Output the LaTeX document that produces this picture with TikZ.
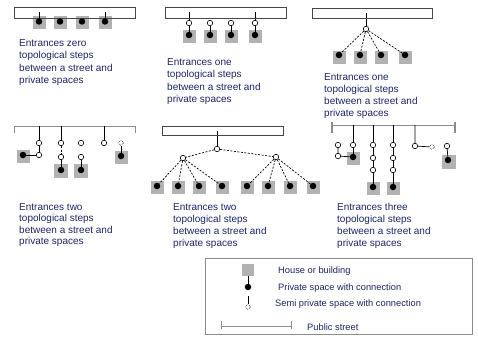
\documentclass[tikz,border=0pt]{standalone}
\usepackage{fontspec}
\setmainfont{Liberation Sans}
\usetikzlibrary{backgrounds}
\definecolor{housegrey}{RGB}{178,178,178}
\definecolor{streetgrey}{RGB}{70,70,70}
\definecolor{bracketgrey}{RGB}{140,140,140}
\definecolor{txt}{RGB}{28,37,102}
\tikzset{
  house/.style={fill=housegrey, draw=none, minimum size=13pt, inner sep=0pt},
  pdot/.style={circle, fill=black, draw=none, minimum size=6.5pt, inner sep=0pt},
  semi/.style={circle, draw=black, fill=white, minimum size=5.5pt, inner sep=0pt, line width=0.6pt},
  semidot/.style={circle, draw=black, fill=white, densely dotted, minimum size=4.5pt, inner sep=0pt, line width=0.6pt},
  streetbox/.style={draw=streetgrey, line width=0.9pt, fill=none, inner sep=0pt},
  bracket/.style={draw=bracketgrey, line width=0.8pt},
  conn/.style={line width=0.7pt},
  dconn/.style={line width=0.7pt, dash pattern=on 2pt off 1.5pt},
  lbl/.style={anchor=base west, inner sep=0pt, font=\fontsize{10}{12}\selectfont, text=txt},
  lglbl/.style={anchor=base west, inner sep=0pt, font=\fontsize{9.3}{11}\selectfont, text=txt}
}
\begin{document}
\begin{tikzpicture}[x=1pt, y=-1pt]
\useasboundingbox (0,0) rectangle (478,337);

% ---------------- Panel 1 ----------------
\node[streetbox, minimum width=121pt, minimum height=11pt] (s1) at (75,12.5) {};
\foreach \i/\x in {1/39,2/60,3/82,4/105} {
  \node[pdot] (d1\i) at (\x,21.5) {};
}
\node[lbl] (t1a) at (19,46) {Entrances zero};
\node[lbl] (t1b) at (19,58.5) {topological steps};
\node[lbl] (t1c) at (19,71) {between a street and};
\node[lbl] (t1d) at (19,83.5) {private spaces};

% ---------------- Panel 2 ----------------
\node[streetbox, minimum width=121pt, minimum height=11pt] (s2) at (225.5,12.5) {};
\foreach \i/\x in {1/189,2/210,3/231,4/255} {
  \node[semi] (c2\i) at (\x,23) {};
  \node[pdot] (d2\i) at (\x,35) {};
}
\node[lbl] (t2a) at (167,65) {Entrances one};
\node[lbl] (t2b) at (167,77.5) {topological steps};
\node[lbl] (t2c) at (167,90) {between a street and};
\node[lbl] (t2d) at (167,102.5) {private spaces};

% ---------------- Panel 3 ----------------
\node[streetbox, minimum width=120pt, minimum height=10pt] (s3) at (372,13) {};
\node[semi] (n3) at (366,29) {};
\foreach \i/\x in {1/339,2/360,3/381,4/405} {
  \node[pdot] (d3\i) at (\x,55) {};
}
\node[lbl] (t3a) at (324,80) {Entrances one};
\node[lbl] (t3b) at (324,92) {topological steps};
\node[lbl] (t3c) at (324,104) {between a street and};
\node[lbl] (t3d) at (324,116) {private spaces};

% ---------------- Panel 4 ----------------
\coordinate (p4l) at (14,126);
\coordinate (p4r) at (135,126);
\coordinate (p4lb) at (14,133);
\coordinate (p4rb) at (135,133);
\node[semi] (a41) at (39,143) {};
\node[semi] (a42) at (39,155) {};
\node[pdot] (dA4) at (23,155) {};
\node[semi] (b41) at (61,143) {};
\node[semi] (b42) at (61,157) {};
\node[pdot] (dB4) at (61,170) {};
\node[semi] (c41) at (81,143) {};
\node[semi] (c42) at (81,157) {};
\node[pdot] (dC4) at (81,170) {};
\node[semi] (d41) at (104,143) {};
\node[semidot] (e41) at (121,143) {};
\node[pdot] (dE4) at (121,156) {};
\node[lbl] (t4a) at (19,210) {Entrances two};
\node[lbl] (t4b) at (19,221.5) {topological steps};
\node[lbl] (t4c) at (19,233) {between a street and};
\node[lbl] (t4d) at (19,244.5) {private spaces};

% ---------------- Panel 5 ----------------
\node[streetbox, minimum width=121pt, minimum height=9pt] (s5) at (222.5,130.5) {};
\node[semi] (n5) at (217,149) {};
\node[semi] (l5) at (183,158) {};
\node[semi] (r5) at (276,157) {};
\foreach \i/\x in {1/157,2/178,3/199,4/222,5/247,6/268,7/290,8/313} {
  \node[pdot] (d5\i) at (\x,186) {};
}
\node[lbl] (t5a) at (173,210) {Entrances two};
\node[lbl] (t5b) at (173,222) {topological steps};
\node[lbl] (t5c) at (173,234) {between a street and};
\node[lbl] (t5d) at (173,246) {private spaces};

% ---------------- Panel 6 ----------------
\coordinate (p6l) at (332,125);
\coordinate (p6r) at (455,125);
\coordinate (p6lt) at (332,122);
\coordinate (p6lb) at (332,133);
\coordinate (p6rt) at (455,122);
\coordinate (p6rb) at (455,133);
\node[semi] (a61) at (338,145) {};
\node[semi] (a62) at (338,156) {};
\node[semi] (b61) at (353,145) {};
\node[pdot] (dB6) at (353,157) {};
\node[semi] (c61) at (373,145) {};
\node[semi] (c62) at (373,158) {};
\node[semi] (c63) at (373,170) {};
\node[pdot] (dC6) at (373,187) {};
\node[semi] (e61) at (393,145) {};
\node[semi] (e62) at (393,158) {};
\node[semi] (e63) at (393,170) {};
\node[pdot] (dD6) at (393,187) {};
\node[semi] (f61) at (415,146) {};
\node[semidot] (f62) at (432,147) {};
\node[semi] (g61) at (447,146) {};
\node[pdot] (dG6) at (448,160) {};
\node[lbl] (t6a) at (337,210) {Entrances three};
\node[lbl] (t6b) at (337,222) {topological steps};
\node[lbl] (t6c) at (337,234) {between a street and};
\node[lbl] (t6d) at (337,246) {private spaces};

% ---------------- Legend ----------------
\node[draw=bracketgrey, line width=0.8pt, minimum width=267pt, minimum height=76pt, inner sep=0pt] (lg) at (338.5,296) {};
\node[pdot] (ld) at (248,287) {};
\node[semidot] (lsemi) at (248,307) {};
\coordinate (lsc) at (248,296);
\coordinate (lsl) at (221,326);
\coordinate (lsr) at (291,326);
\coordinate (lslt) at (221,321);
\coordinate (lsrt) at (291,321);
\coordinate (lslb) at (221,329);
\coordinate (lsrb) at (291,329);
\node[lglbl] (lt1) at (278,273) {House or building};
\node[lglbl] (lt2) at (278,290) {Private space with connection};
\node[lglbl] (lt3) at (275,306) {Semi private space with connection};
\node[lglbl] (lt4) at (307,330) {Public street};

% ---------------- background: houses and connectors ----------------
\begin{pgfonlayer}{background}
  % houses
  \foreach \i/\x in {1/39,2/60,3/82,4/105} { \node[house] (h1\i) at (\x,23) {}; }
  \foreach \i/\x in {1/189,2/210,3/231,4/255} { \node[house] (h2\i) at (\x,36.5) {}; }
  \foreach \i/\x in {1/339,2/360,3/381,4/405} { \node[house] (h3\i) at (\x,57) {}; }
  \node[house] (hA4) at (23,156) {};
  \node[house, minimum size=14pt] (hB4) at (61,171) {};
  \node[house, minimum size=14pt] (hC4) at (81,171) {};
  \node[house] (hE4) at (121,157.5) {};
  \foreach \i/\x in {1/157,2/178,3/199,4/222,5/247,6/268,7/290,8/313} { \node[house] (h5\i) at (\x,187.5) {}; }
  \node[house] (hB6) at (353,158) {};
  \node[house] (hC6) at (373,188.5) {};
  \node[house] (hD6) at (393,188.5) {};
  \node[house, minimum size=14pt] (hG6) at (449,161.5) {};
  \node[house, minimum size=12pt] (lh) at (248,270) {};

  % panel 1
  \draw[conn] (s1.center -| d11) -- (d11);
  \draw[conn] (s1.center -| d14) -- (d14);
  % panel 2
  \draw[conn] (s2.center -| c21) -- (c21);
  \draw[conn] (s2.center -| c24) -- (c24);
  \foreach \i in {1,...,4} { \draw[conn] (c2\i) -- (d2\i); }
  % panel 3
  \draw[conn] (s3.center -| n3) -- (n3);
  \foreach \i in {1,...,4} { \draw[dconn] (n3) -- (d3\i); }
  % panel 4
  \draw[bracket] (p4lb) -- (p4l) -- (p4r) -- (p4rb);
  \draw[conn] (p4l -| a41) -- (a41) -- (a42) -- (dA4);
  \draw[conn] (p4l -| b41) -- (b41);
  \draw[dconn] (b41) -- (b42);
  \draw[conn] (b42) -- (dB4);
  \draw[conn] (c42) -- (dC4);
  \draw[conn] (p4l -| d41) -- (d41);
  \draw[conn] (e41) -- (dE4);
  % panel 5
  \draw[conn] (s5.center -| n5) -- (n5);
  \draw[dconn] (n5) -- (l5);
  \draw[dconn] (n5) -- (r5);
  \foreach \i in {1,...,4} { \draw[dconn] (l5) -- (d5\i); }
  \foreach \i in {5,...,8} { \draw[dconn] (r5) -- (d5\i); }
  % panel 6
  \draw[bracket] (p6l) -- (p6r);
  \draw[line width=1.6pt, draw=bracketgrey] (p6lt) -- (p6lb);
  \draw[line width=1.6pt, draw=bracketgrey] (p6rt) -- (p6rb);
  \draw[conn] (a61) -- (a62) -- (dB6);
  \draw[conn] (p6l -| b61) -- (b61) -- (dB6);
  \draw[conn] (p6l -| c61) -- (c61) -- (c62) -- (c63) -- (dC6);
  \draw[conn] (p6l -| e61) -- (e61) -- (e62) -- (e63) -- (dD6);
  \draw[conn] (p6l -| f61) -- (f61) -- (f62);
  \draw[conn] (g61) -- (dG6);
  % legend
  \draw[conn] (lh) -- (ld);
  \draw[conn] (lsc) -- (lsemi);
  \draw[bracket] (lslt) -- (lslb);
  \draw[bracket] (lsrt) -- (lsrb);
  \draw[bracket] (lsl) -- (lsr);
\end{pgfonlayer}
\end{tikzpicture}
\end{document}
